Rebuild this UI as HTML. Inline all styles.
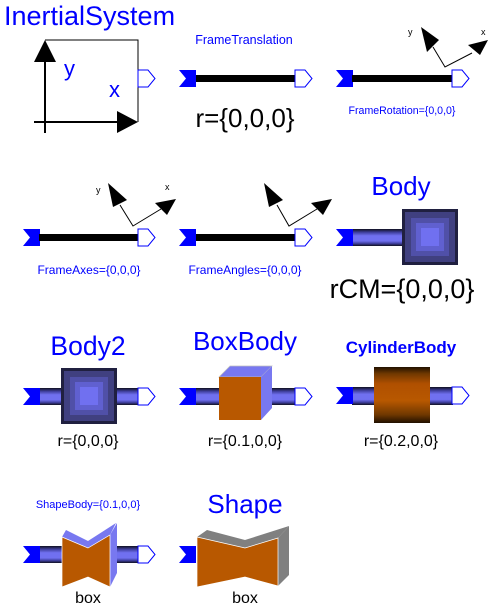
<!DOCTYPE html>
<html><head><style>html,body{margin:0;padding:0;background:#fff}svg{display:block}text{font-family:"Liberation Sans",Arial,sans-serif}</style></head>
<body>
<svg width="494" height="609" viewBox="0 0 494 609" xmlns="http://www.w3.org/2000/svg">
<defs>
<linearGradient id="rod" x1="0" y1="0" x2="0" y2="1">
<stop offset="0" stop-color="#101020"/><stop offset="0.2" stop-color="#4040a0"/><stop offset="0.4" stop-color="#7070f0"/><stop offset="0.7" stop-color="#7070f0"/><stop offset="0.85" stop-color="#4040a0"/><stop offset="1" stop-color="#101020"/>
</linearGradient>
<linearGradient id="cyl" x1="0" y1="0" x2="0" y2="1">
<stop offset="0" stop-color="#201000"/><stop offset="0.12" stop-color="#703800"/><stop offset="0.3" stop-color="#b05000"/><stop offset="0.6" stop-color="#b85800"/><stop offset="0.85" stop-color="#703800"/><stop offset="1" stop-color="#201000"/>
</linearGradient>
<g id="inp"><polygon points="0,0 17,0 17,17 0,17 7,8.5" fill="#0000ff"/></g>
<g id="outp"><polygon points="0,0 10,0 17,8.5 10,17 0,17" fill="#fff" stroke="#0000ff" stroke-width="1"/></g>
<g id="body"><rect x="0" y="0" width="56" height="56" fill="#202040"/><rect x="3" y="3" width="50" height="50" fill="#404080"/><rect x="9" y="9" width="38" height="38" fill="#5050a8"/><rect x="14" y="14" width="28" height="28" fill="#6060d0"/><rect x="19" y="19" width="18" height="18" fill="#7070f0"/></g>
</defs>

<!-- InertialSystem -->
<text x="4" y="25" font-size="27" fill="#0000ff">InertialSystem</text>
<polyline points="45,40 138,40 138,122" fill="none" stroke="#000" stroke-width="1"/>
<line x1="45" y1="50" x2="45" y2="133" stroke="#000" stroke-width="2"/>
<line x1="34" y1="122" x2="125" y2="122" stroke="#000" stroke-width="2"/>
<polygon points="45,40 34,62 56,62" fill="#000"/>
<polygon points="138,122 117,111 117,133" fill="#000"/>
<text x="64" y="76" font-size="22" fill="#0000ff">y</text>
<text x="109" y="97" font-size="22" fill="#0000ff">x</text>
<use href="#outp" x="138" y="70"/>

<!-- FrameTranslation -->
<text x="244" y="44" font-size="12.5" fill="#0000ff" text-anchor="middle">FrameTranslation</text>
<use href="#inp" x="179" y="70"/>
<rect x="196" y="75" width="100" height="7" fill="#000"/>
<use href="#outp" x="295" y="70"/>
<text x="245" y="127" font-size="26" fill="#000" text-anchor="middle">r={0,0,0}</text>

<!-- FrameRotation -->
<use href="#inp" x="336" y="70"/>
<rect x="352" y="75" width="101" height="7" fill="#000"/>
<use href="#outp" x="452" y="70"/>
<text x="402" y="114" font-size="10.6" fill="#0000ff" text-anchor="middle">FrameRotation={0,0,0}</text>
<polyline points="433,47 445,67 472,53" fill="none" stroke="#000" stroke-width="1"/>
<polygon points="421,27 427,52 439,40" fill="#000"/>
<polygon points="488,40 468,45 480,55" fill="#000"/>
<text x="408" y="35" font-size="9" fill="#000">y</text>
<text x="481" y="35" font-size="9" fill="#000">x</text>

<!-- FrameAxes -->
<use href="#inp" x="23" y="229"/>
<rect x="39" y="234" width="100" height="7" fill="#000"/>
<use href="#outp" x="138" y="229"/>
<text x="89" y="274" font-size="12" fill="#0000ff" text-anchor="middle">FrameAxes={0,0,0}</text>
<polyline points="120,205 133,226 161,209" fill="none" stroke="#000" stroke-width="1"/>
<polygon points="108,183 113,207 127,200" fill="#000"/>
<polygon points="176,199 155,203 167,215" fill="#000"/>
<text x="96" y="193" font-size="9" fill="#000">y</text>
<text x="165" y="190" font-size="9" fill="#000">x</text>

<!-- FrameAngles -->
<use href="#inp" x="179" y="229"/>
<rect x="196" y="234" width="100" height="7" fill="#000"/>
<use href="#outp" x="295" y="229"/>
<text x="245" y="274" font-size="12" fill="#0000ff" text-anchor="middle">FrameAngles={0,0,0}</text>
<polyline points="277,205 289,226 317,209" fill="none" stroke="#000" stroke-width="1"/>
<polygon points="264,183 269,207 283,200" fill="#000"/>
<polygon points="332,199 311,203 323,215" fill="#000"/>

<!-- Body -->
<text x="401" y="195" font-size="26" fill="#0000ff" text-anchor="middle">Body</text>
<rect x="352" y="229" width="51" height="17" fill="url(#rod)"/>
<use href="#inp" x="336" y="229"/>
<use href="#body" x="402" y="209"/>
<text x="402" y="298" font-size="27" fill="#000" text-anchor="middle">rCM={0,0,0}</text>

<!-- Body2 -->
<text x="88" y="355" font-size="26.5" fill="#0000ff" text-anchor="middle">Body2</text>
<rect x="39" y="388" width="100" height="17" fill="url(#rod)"/>
<use href="#inp" x="23" y="388"/>
<use href="#body" x="61" y="368"/>
<use href="#outp" x="138" y="388"/>
<text x="88" y="446" font-size="16" fill="#000" text-anchor="middle">r={0,0,0}</text>

<!-- BoxBody -->
<text x="245" y="350" font-size="26" fill="#0000ff" text-anchor="middle">BoxBody</text>
<rect x="196" y="388" width="100" height="17" fill="url(#rod)"/>
<use href="#inp" x="179" y="388"/>
<polygon points="219,377 230,366 272,366 261,377" fill="#7878f0" stroke="#c0c0c0" stroke-width="0.7"/>
<polygon points="261,377 272,366 272,408 261,420" fill="#7878f0"/>
<rect x="219" y="377" width="42" height="43" fill="#b85800"/>
<use href="#outp" x="295" y="388"/>
<text x="245" y="446" font-size="16" fill="#000" text-anchor="middle">r={0.1,0,0}</text>

<!-- CylinderBody -->
<text x="401" y="353" font-size="17" font-weight="bold" fill="#0000ff" text-anchor="middle">CylinderBody</text>
<rect x="352" y="387" width="101" height="18" fill="url(#rod)"/>
<use href="#inp" x="336" y="387"/>
<rect x="374" y="367" width="56" height="56" fill="url(#cyl)"/>
<use href="#outp" x="452" y="387"/>
<text x="401" y="446" font-size="16" fill="#000" text-anchor="middle">r={0.2,0,0}</text>

<!-- ShapeBody -->
<text x="88" y="508" font-size="11" fill="#0000ff" text-anchor="middle">ShapeBody={0.1,0,0}</text>
<rect x="39" y="546" width="100" height="17" fill="url(#rod)"/>
<use href="#inp" x="23" y="546"/>
<polygon points="62,537 66,530 88,541 116,523 110,535 88,548" fill="#7878f0"/>
<polygon points="110,535 117,523 117,573 110,587" fill="#7878f0"/>
<polygon points="62,537 88,548 110,535 110,587 88,577 62,587" fill="#b85800" stroke="#fff" stroke-width="0.7"/>
<use href="#outp" x="138" y="546"/>
<text x="88" y="603" font-size="16" fill="#000" text-anchor="middle">box</text>

<!-- Shape -->
<text x="245" y="513" font-size="26" fill="#0000ff" text-anchor="middle">Shape</text>
<use href="#inp" x="179" y="546"/>
<polygon points="197,537 207,530 245,540 289,526 278,538 245,548" fill="#808080"/>
<polygon points="278,538 289,526 289,575 278,586" fill="#808080"/>
<polygon points="197,537 245,548 278,538 278,586 245,577 197,587" fill="#b85800" stroke="#fff" stroke-width="0.7"/>
<text x="245" y="603" font-size="16" fill="#000" text-anchor="middle">box</text>
</svg>
</body></html>
